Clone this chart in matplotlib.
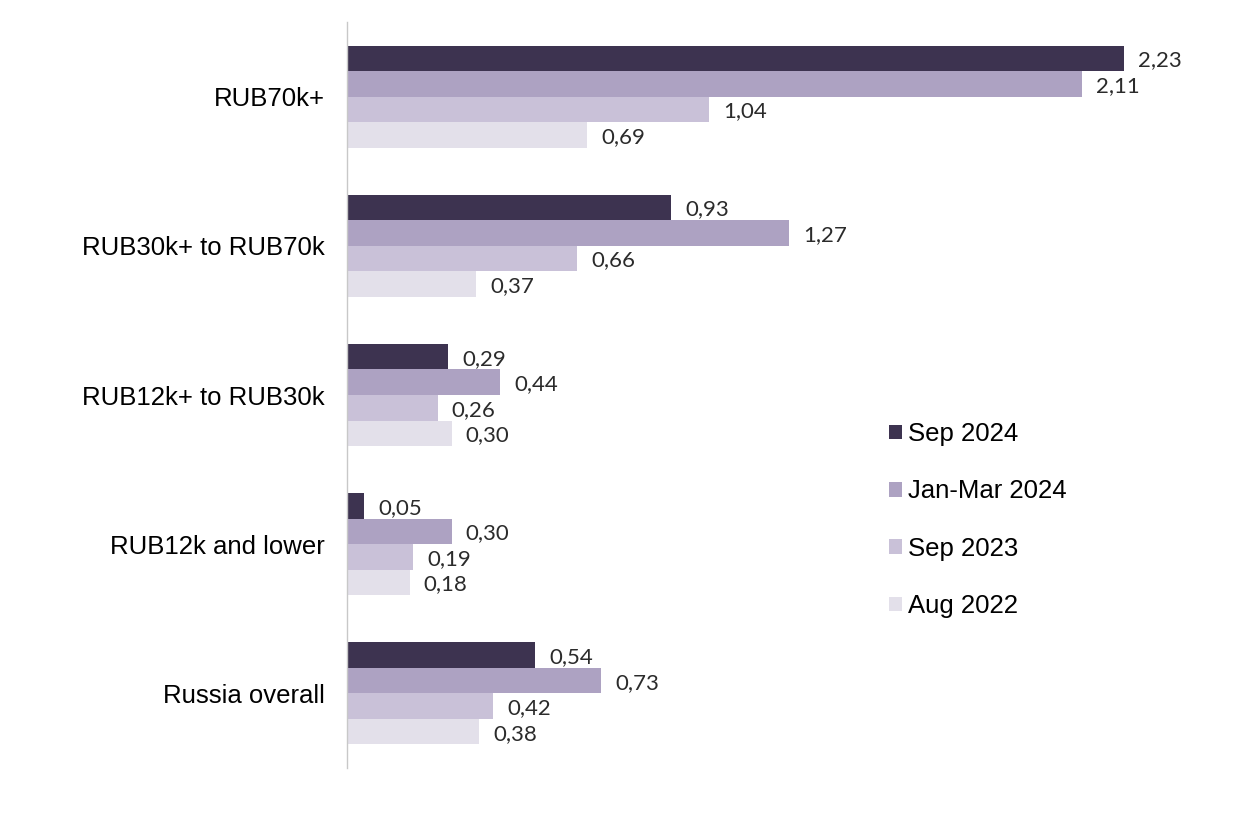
import matplotlib
matplotlib.use("Agg")
import matplotlib.pyplot as plt
import numpy as np
from matplotlib.patches import Patch

categories = ["RUB70k+", "RUB30k+ to RUB70k", "RUB12k+ to RUB30k", "RUB12k and lower", "Russia overall"]
series = ["Sep 2024", "Jan-Mar 2024", "Sep 2023", "Aug 2022"]
sep_2024 = [2.23, 0.93, 0.29, 0.05, 0.54]
jan_mar_2024 = [2.11, 1.27, 0.44, 0.30, 0.73]
sep_2023 = [1.04, 0.66, 0.26, 0.19, 0.42]
aug_2022 = [0.69, 0.37, 0.30, 0.18, 0.38]
values = [sep_2024, jan_mar_2024, sep_2023, aug_2022]
colors = ["#3d3350", "#ada2c2", "#c9c1d8", "#e3e0ea"]

fig = plt.figure(figsize=(12.5, 8.24), dpi=100)
ax = fig.add_axes([347/1250, 1-768/824, 853/1250, (768-22)/824])

n = len(categories)
bh = 0.171
y0 = np.arange(n)
for i, (vals, c) in enumerate(zip(values, colors)):
    ys = y0 + (i - 1.5) * bh
    ax.barh(ys, vals, height=bh, color=c, edgecolor="none")
    for y, v in zip(ys, vals):
        ax.annotate(f"{v:.2f}".replace(".", ","), xy=(v, y), xytext=(14, -2),
                    textcoords="offset pixels",
                    va="center", ha="left", fontsize=16, family="Lato", color="#2b2b2b")

ax.set_ylim(n - 0.5, -0.5)
ax.set_xlim(0, 853/348.4)
ax.set_yticks(y0)
ax.set_yticklabels(categories, fontsize=18.5, family="Liberation Sans", color="black")
ax.tick_params(axis="y", length=0, pad=16)
ax.set_xticks([])
for s in ["top", "right", "bottom"]:
    ax.spines[s].set_visible(False)
ax.spines["left"].set_color("#c8c8c8")
ax.spines["left"].set_linewidth(1.0)

handles = [Patch(facecolor=c, edgecolor="none") for c in colors]
fig.legend(handles, series, loc="upper left", bbox_to_anchor=(889/1250, 1-422/824),
           frameon=False, borderpad=0, borderaxespad=0,
           handlelength=0.5, handleheight=0.5, handletextpad=0.25,
           labelspacing=1.3, prop={"family": "Liberation Sans", "size": 18.5})

fig.savefig("out.png", dpi=100, facecolor="white")
